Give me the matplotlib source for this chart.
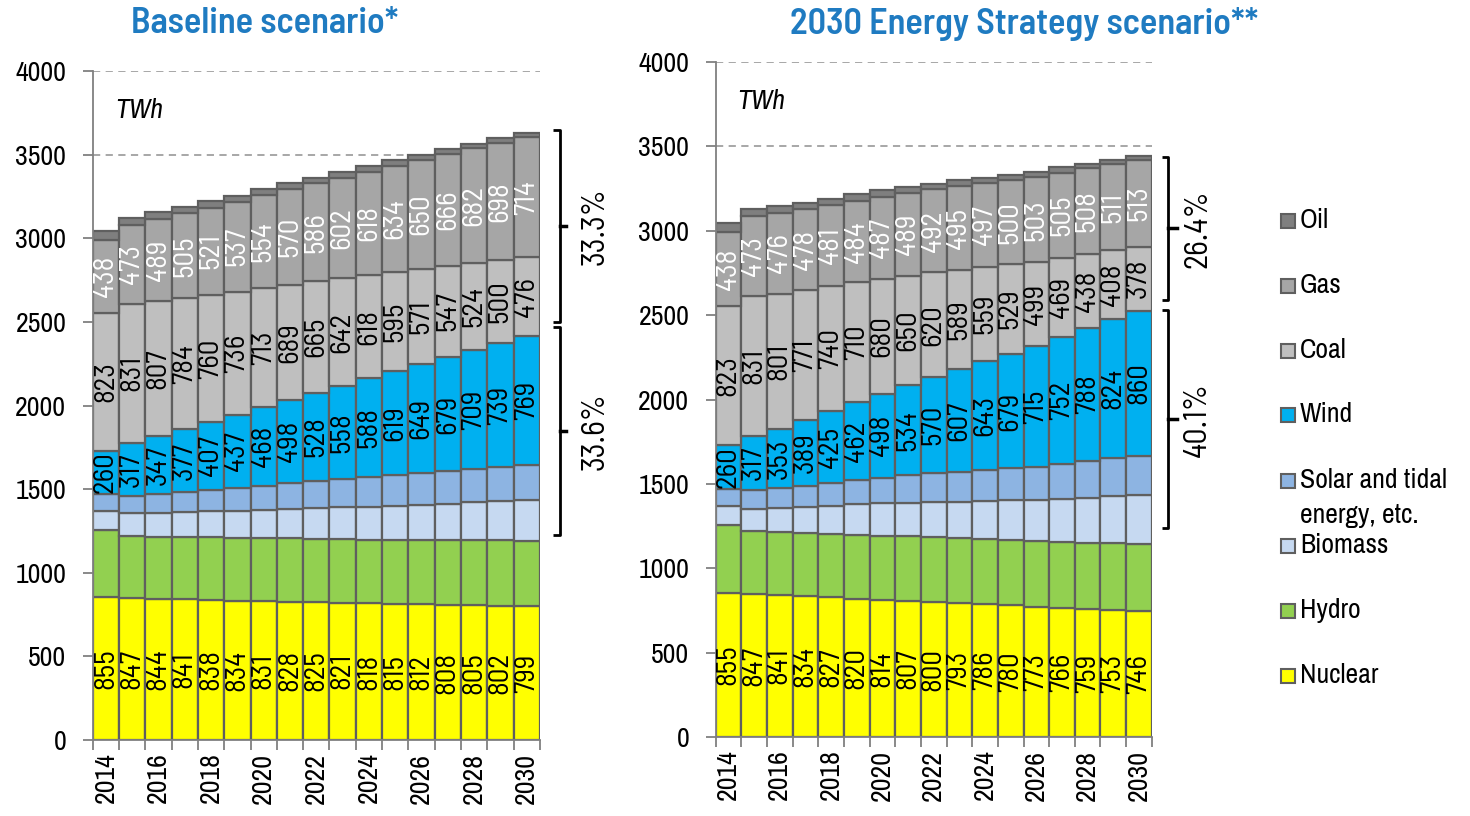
import matplotlib
matplotlib.use("Agg")
import matplotlib.pyplot as plt
from matplotlib.patches import Rectangle
import numpy as np

plt.rcParams['font.family'] = ['Archivo Narrow', 'DejaVu Sans']

years = list(range(2014, 2031))

# Baseline scenario (TWh)
nuclear_b = [855, 847, 844, 841, 838, 834, 831, 828, 825, 821, 818, 815, 812, 808, 805, 802, 799]
hydro_b = [401, 370, 372, 373, 374, 375, 376, 377, 377, 379, 380, 382, 385, 387, 389, 391, 393]
biomass_b = [113, 139, 144, 150, 157, 163, 170, 177, 185, 191, 198, 204, 211, 219, 227, 235, 243]
solar_b = [102, 104, 110, 118, 126, 135, 144, 153, 162, 170, 178, 185, 191, 196, 201, 205, 209]
wind_b = [260, 317, 347, 377, 407, 437, 468, 498, 528, 558, 588, 619, 649, 679, 709, 739, 769]
coal_b = [823, 831, 807, 784, 760, 736, 713, 689, 665, 642, 618, 595, 571, 547, 524, 500, 476]
gas_b = [438, 473, 489, 505, 521, 537, 554, 570, 586, 602, 618, 634, 650, 666, 682, 698, 714]
oil_b = [53, 42, 41, 40, 39, 38, 37, 36, 35, 34, 33, 32, 31, 30, 29, 28, 27]

# 2030 Energy Strategy scenario (TWh)
nuclear_s = [855, 847, 841, 834, 827, 820, 814, 807, 800, 793, 786, 780, 773, 766, 759, 753, 746]
hydro_s = [401, 374, 375, 375, 376, 378, 380, 382, 385, 386, 387, 388, 388, 391, 393, 396, 398]
biomass_s = [115, 132, 142, 155, 168, 180, 190, 198, 206, 216, 226, 236, 245, 255, 266, 277, 288]
solar_s = [99, 111, 116, 125, 134, 144, 153, 163, 172, 178, 184, 189, 194, 207, 217, 226, 235]
wind_s = [260, 317, 353, 389, 425, 462, 498, 534, 570, 607, 643, 679, 715, 752, 788, 824, 860]
coal_s = [823, 831, 801, 771, 740, 710, 680, 650, 620, 589, 559, 529, 499, 469, 438, 408, 378]
gas_s = [438, 473, 476, 478, 481, 484, 487, 489, 492, 495, 497, 500, 503, 505, 508, 511, 513]
oil_s = [55, 42, 41, 40, 39, 38, 37, 36, 35, 34, 33, 32, 31, 30, 28, 27, 25]

names = ['Nuclear', 'Hydro', 'Biomass', 'Solar and tidal\nenergy, etc.', 'Wind', 'Coal', 'Gas', 'Oil']
colors = ['#FFFF00', '#92D050', '#C6D9F1', '#8DB4E2', '#00B0F0', '#BFBFBF', '#A6A6A6', '#7F7F7F']
labelled = {0: 'black', 4: 'black', 5: 'black', 6: 'white'}

# brackets: (top, bottom, label)
brackets_b = [(3647, 2501, '33.3%'), (2471, 1226, '33.6%')]
brackets_s = [(3437, 2590, '26.4%'), (2530, 1237, '40.1%')]

edge = '#5F5F5F'
grid_c = '#A0A0A0'
num_font = ['Barlow Semi Condensed', 'DejaVu Sans']


def draw(ax, series, brackets, bx):
    x = np.arange(len(years))
    bottom = np.zeros(len(years))
    for i, vals in enumerate(series):
        vals = np.array(vals, dtype=float)
        ax.bar(x, vals, width=1.0, bottom=bottom, color=colors[i],
               edgecolor=edge, linewidth=1.6, zorder=2)
        if i in labelled:
            for xi, v, b in zip(x, vals, bottom):
                ax.text(xi, b + v / 2, str(int(v)), rotation=90, ha='center',
                        va='center', fontsize=21, color=labelled[i], zorder=3,
                        family=num_font)
        bottom += vals
    ax.set_xlim(-0.5, len(years) - 0.5)
    ax.set_ylim(0, 4000)
    ax.set_yticks(range(0, 4001, 500))
    ax.yaxis.grid(True, linestyle=(0, (4, 3)), color=grid_c, linewidth=1.3, zorder=0)
    ax.set_axisbelow(True)
    ax.set_xticks(x)
    ax.set_xticklabels([str(y) if y % 2 == 0 else '' for y in years], rotation=90)
    ax.set_xticks(np.arange(-0.5, len(years)), minor=True)
    ax.tick_params(axis='x', which='major', length=0, pad=9, labelsize=20)
    ax.tick_params(axis='x', which='minor', length=7, width=1.3, color='#808080')
    ax.tick_params(axis='y', length=7, width=1.3, color='#808080', pad=12, labelsize=20)
    for s in ['top', 'right']:
        ax.spines[s].set_visible(False)
    for s in ['left', 'bottom']:
        ax.spines[s].set_color('#808080')
        ax.spines[s].set_linewidth(1.3)
    ax.text(0.35, 3765, 'TWh', style='italic', fontsize=20, va='center', ha='left')
    xv, xt, xn, xl = bx
    for top, bot, lab in brackets:
        mid = (top + bot) / 2
        ax.plot([xt, xv, xv, xt], [top, top, bot, bot], color='black', lw=2,
                clip_on=False, solid_capstyle='butt')
        ax.plot([xv, xn], [mid, mid], color='black', lw=2.5, clip_on=False)
        ax.text(xl, mid, lab, rotation=90, ha='center', va='center', fontsize=23,
                family=num_font)


fig = plt.figure(figsize=(14.7, 8.16), dpi=100)
ax1 = fig.add_axes([0.0631, 0.0931, 0.3042, 0.8199])
ax2 = fig.add_axes([0.4869, 0.0968, 0.2966, 0.8272])

draw(ax1, [nuclear_b, hydro_b, biomass_b, solar_b, wind_b, coal_b, gas_b, oil_b],
     brackets_b, (17.26, 17.0, 17.5, 18.6))
draw(ax2, [nuclear_s, hydro_s, biomass_s, solar_s, wind_s, coal_s, gas_s, oil_s],
     brackets_s, (17.15, 16.89, 17.47, 18.3))

title_c = '#1F7BC1'
title_font = ['Barlow Semi Condensed', 'DejaVu Sans']
fig.text(0.180, 0.971, 'Baseline scenario*', color=title_c, fontsize=26,
         fontweight=600, ha='center', va='center', family=title_font)
fig.text(0.6966, 0.971, '2030 Energy Strategy scenario**', color=title_c, fontsize=26,
         fontweight=600, ha='center', va='center', family=title_font)

# legend (top to bottom)
leg_y = [221, 286, 351, 415, 481, 546, 611, 676]
for k, yy in zip(range(7, -1, -1), leg_y):
    fy = 1 - yy / 816
    fig.patches.append(Rectangle((1281 / 1470, fy - 7 / 816), 14 / 1470, 14 / 816,
                                 transform=fig.transFigure, facecolor=colors[k],
                                 edgecolor=edge, linewidth=1.5))
    fig.text(1300 / 1470, fy + 13 / 816, names[k], fontsize=20, ha='left', va='top',
             linespacing=1.5)

fig.savefig('out.png', dpi=100)
